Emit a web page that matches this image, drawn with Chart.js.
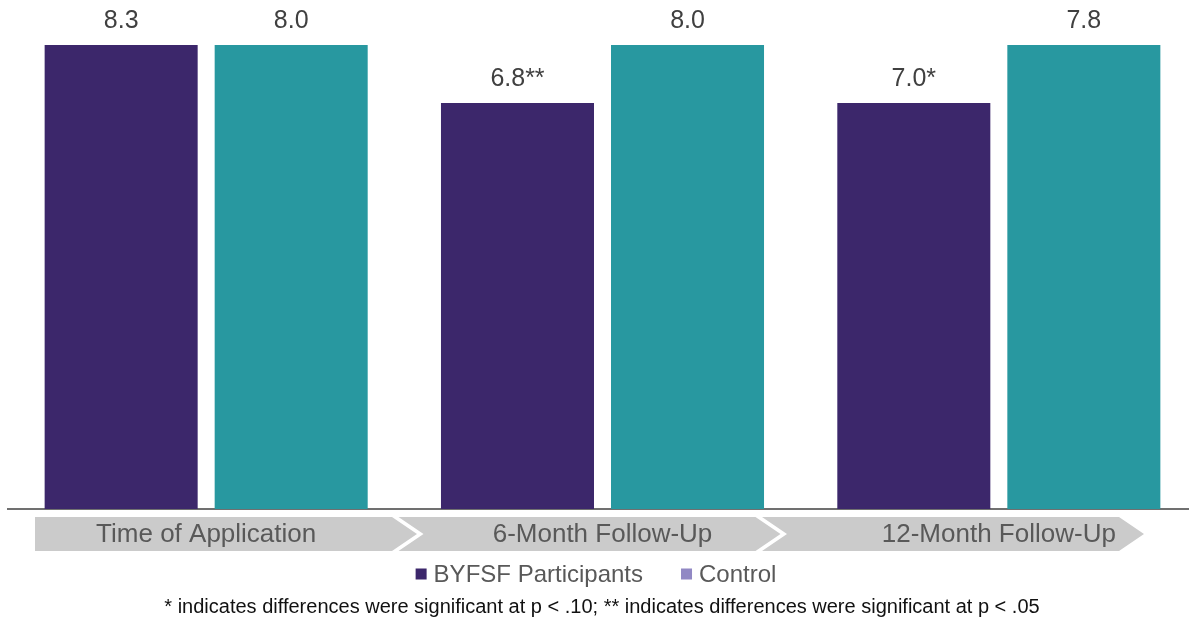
<!DOCTYPE html>
<html>
<head>
<meta charset="utf-8">
<script src="https://cdn.jsdelivr.net/npm/chart.js@4.4.1/dist/chart.umd.min.js"></script>
<style>
  html, body { margin: 0; padding: 0; background: #ffffff; overflow: hidden; }
  #wrap { position: relative; width: 1200px; height: 621px; }
</style>
</head>
<body>
<div id="wrap"><canvas id="c"></canvas></div>
<script>
// ---- data ----
const categories = ["Time of Application", "6-Month Follow-Up", "12-Month Follow-Up"];
const seriesNames = ["BYFSF Participants", "Control"];
// bar heights as drawn in the source graphic (the source bars are not to scale with the printed values)
const participantsBars = [8.0, 7.0, 7.0];
const controlBars = [8.0, 8.0, 8.0];
// printed values above the bars
const participantsLabels = ["8.3", "6.8**", "7.0*"];
const controlLabels = ["8.0", "8.0", "7.8"];
const footnote = "* indicates differences were significant at p < .10; ** indicates differences were significant at p < .05";
const yMax = 8.0;

// ---- styling ----
const FONT = '"Liberation Sans", Arial, Helvetica, sans-serif';
const barColors = ["#3c276b", "#2898a0"];
const legendColors = ["#3c276b", "#9188c4"];

Chart.defaults.font.family = FONT;

const decoPlugin = {
  id: 'deco',
  beforeDraw(chart) {
    const ctx = chart.ctx, ca = chart.chartArea;
    const top = ca.bottom + 8, h = 34, w = 357, tip = 25, pitch = 363.5;
    const left0 = ca.left + 27;
    ctx.save();
    ctx.fillStyle = '#cbcbcb';
    for (let i = 0; i < categories.length; i++) {
      const x0 = left0 + i * pitch;
      ctx.beginPath();
      ctx.moveTo(x0, top);
      ctx.lineTo(x0 + w, top);
      ctx.lineTo(x0 + w + tip, top + h / 2);
      ctx.lineTo(x0 + w, top + h);
      ctx.lineTo(x0, top + h);
      if (i > 0) ctx.lineTo(x0 + tip, top + h / 2);
      ctx.closePath();
      ctx.fill();
    }
    ctx.restore();
  },
  afterDatasetsDraw(chart) {
    const ctx = chart.ctx;
    const labelSets = [participantsLabels, controlLabels];
    ctx.save();
    ctx.font = '25px ' + FONT;
    ctx.fillStyle = '#404040';
    ctx.textAlign = 'center';
    ctx.textBaseline = 'middle';
    chart.data.datasets.forEach((ds, di) => {
      const meta = chart.getDatasetMeta(di);
      meta.data.forEach((bar, i) => {
        ctx.fillText(labelSets[di][i], bar.x, bar.y - 24);
      });
    });
    ctx.restore();
  },
  afterDraw(chart) {
    const ctx = chart.ctx, ca = chart.chartArea;
    const xs = chart.scales.x;
    ctx.save();
    // category labels on the chevrons
    ctx.font = '26px ' + FONT;
    ctx.fillStyle = '#595959';
    ctx.textAlign = 'center';
    ctx.textBaseline = 'middle';
    categories.forEach((c, i) => {
      ctx.fillText(c, xs.getPixelForValue(i), ca.bottom + 8 + 18);
    });
    // legend
    ctx.font = '24px ' + FONT;
    const box = 11, gap = 7, spacing = 38;
    const widths = seriesNames.map(n => box + gap + ctx.measureText(n).width);
    const total = widths.reduce((a, b) => a + b, 0) + spacing * (seriesNames.length - 1);
    let x = 596 - total / 2;
    const ly = ca.bottom + 65;
    ctx.textAlign = 'left';
    seriesNames.forEach((n, i) => {
      ctx.fillStyle = legendColors[i];
      ctx.fillRect(x, ly - box / 2, box, box);
      ctx.fillStyle = '#595959';
      ctx.fillText(n, x + box + gap, ly + 1);
      x += widths[i] + spacing;
    });
    // footnote
    ctx.font = '20px ' + FONT;
    ctx.fillStyle = '#111111';
    ctx.textAlign = 'center';
    ctx.fillText(footnote, 602, ca.bottom + 98);
    ctx.restore();
  }
};

new Chart(document.getElementById('c'), {
  type: 'bar',
  data: {
    labels: categories,
    datasets: [
      { label: seriesNames[0], data: participantsBars, backgroundColor: barColors[0] },
      { label: seriesNames[1], data: controlBars, backgroundColor: barColors[1] }
    ]
  },
  options: {
    responsive: true,
    maintainAspectRatio: false,
    animation: false,
    layout: { padding: { left: 8, right: 3, top: 45, bottom: 112 } },
    plugins: { legend: { display: false }, tooltip: { enabled: false }, title: { display: false } },
    datasets: { bar: { categoryPercentage: 0.858, barPercentage: 0.9 } },
    scales: {
      x: {
        grid: { display: false, drawTicks: false },
        ticks: { display: false },
        border: { display: true, color: '#707070', width: 2 },
        afterFit(scale) { scale.height = 0; }
      },
      y: { display: false, min: 0, max: yMax }
    }
  },
  plugins: [decoPlugin]
});
</script>
</body>
</html>
